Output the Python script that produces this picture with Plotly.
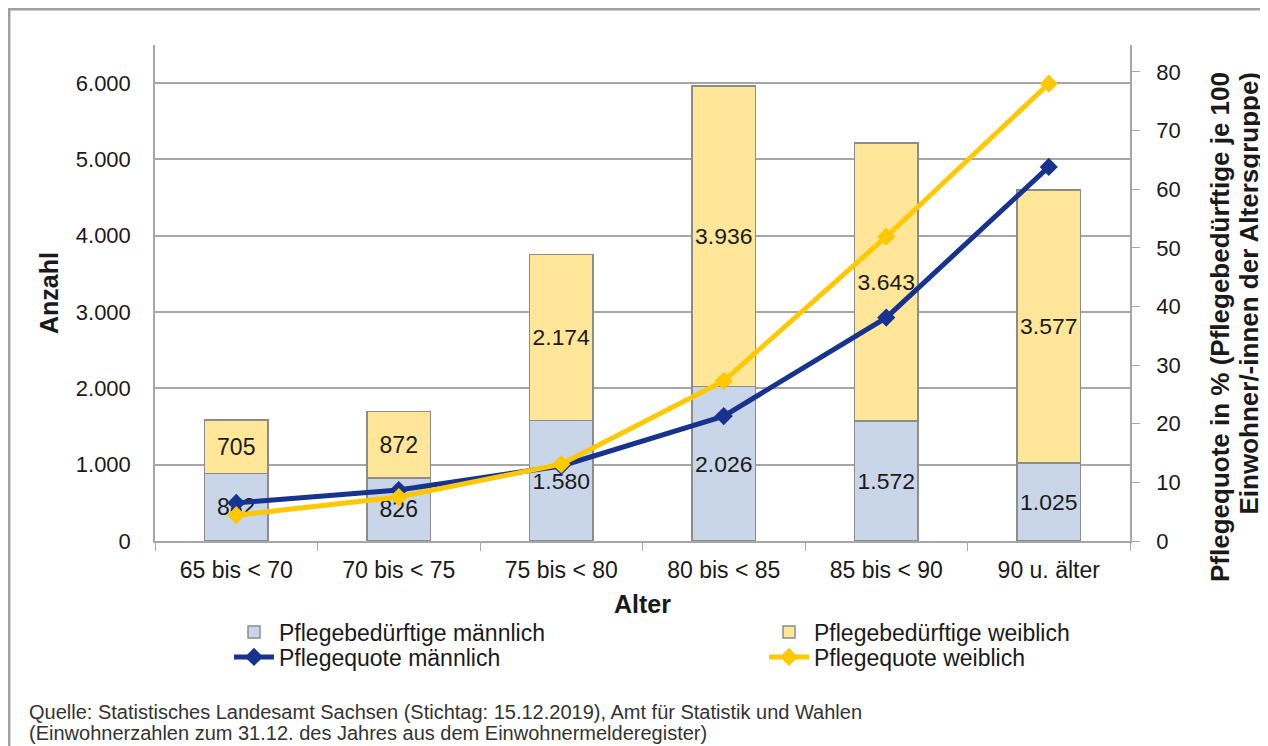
import plotly.graph_objects as go

categories = ["65 bis < 70", "70 bis < 75", "75 bis < 80", "80 bis < 85", "85 bis < 90", "90 u. älter"]
maennlich = [882, 826, 1580, 2026, 1572, 1025]
weiblich = [705, 872, 2174, 3936, 3643, 3577]
quote_m = [6.5, 8.7, 12.8, 21.3, 38.1, 63.8]
quote_w = [4.4, 7.5, 13.1, 27.3, 51.9, 78.0]
left_ticks = [0, 1000, 2000, 3000, 4000, 5000, 6000]
right_ticks = [0, 10, 20, 30, 40, 50, 60, 70, 80]

FONT = "Liberation Sans, Arial, sans-serif"
TXT = "#1a1a1a"
W, H = 1260, 738          # page adds an 8px body margin
OFF = 8
L, R, T, B = 147, 138, 37, 205
PW, PH = W - L - R, H - T - B


def px(x):  # screen x -> paper
    return (x - OFF - L) / PW


def py(y):  # screen y -> paper
    return (H - B - (y - OFF)) / PH


fig = go.Figure()
fig.add_trace(go.Bar(
    x=categories, y=maennlich, name="Pflegebedürftige männlich", legend="legend",
    marker=dict(color="#C9D5E8", line=dict(color="#8C8C8C", width=1.5)),
    texttemplate="%{y:,.0f}", textposition="inside", insidetextanchor="middle",
    textfont=dict(size=23, color=TXT, family=FONT), textangle=0,
))
fig.add_trace(go.Bar(
    x=categories, y=weiblich, name="Pflegebedürftige weiblich", legend="legend2",
    marker=dict(color="#FFE699", line=dict(color="#8C8C8C", width=1.5)),
    texttemplate="%{y:,.0f}", textposition="inside", insidetextanchor="middle",
    textfont=dict(size=23, color=TXT, family=FONT), textangle=0,
))
fig.add_trace(go.Scatter(
    x=categories, y=quote_m, name="Pflegequote männlich", yaxis="y2", legend="legend3",
    mode="lines+markers", line=dict(color="#17338F", width=5),
    marker=dict(symbol="diamond", size=14, color="#17338F"),
))
fig.add_trace(go.Scatter(
    x=categories, y=quote_w, name="Pflegequote weiblich", yaxis="y2", legend="legend4",
    mode="lines+markers", line=dict(color="#FFC800", width=5),
    marker=dict(symbol="diamond", size=14, color="#FFC800"),
))

legend_common = dict(
    orientation="v", xanchor="left", yanchor="middle", itemwidth=40,
    font=dict(size=23, family=FONT, color=TXT),
    bgcolor="rgba(0,0,0,0)",
)

fig.update_layout(
    width=W, height=H,
    margin=dict(l=L, r=R, t=T, b=B),
    paper_bgcolor="white", plot_bgcolor="white",
    separators=",.",
    barmode="stack", bargap=0.61,
    font=dict(family=FONT, color=TXT, size=22),
    showlegend=True,
    legend=dict(x=px(229), y=py(632), **legend_common),
    legend2=dict(x=px(764), y=py(632), **legend_common),
    legend3=dict(x=px(229), y=py(657), **legend_common),
    legend4=dict(x=px(764), y=py(657), **legend_common),
    xaxis=dict(
        automargin=False,
        showline=True, linecolor="#A6A6A6", linewidth=1.5,
        ticks="outside", ticklen=8, tickcolor="#A6A6A6", tickson="boundaries",
        ticklabelstandoff=8,
        tickfont=dict(size=23, family=FONT, color=TXT),
        title=dict(text="<b>Alter</b>", font=dict(size=25, family=FONT, color=TXT), standoff=13),
    ),
    yaxis=dict(
        automargin=False,
        range=[0, 6500], tickvals=left_ticks, tickformat=",.0f",
        showgrid=True, gridcolor="#A6A6A6", gridwidth=1.5,
        showline=True, linecolor="#A6A6A6", linewidth=1.5,
        ticks="", ticklabelstandoff=18,
        tickfont=dict(size=22, family=FONT, color=TXT), zeroline=False,
        title=dict(text="<b>Anzahl</b>", font=dict(size=25, family=FONT, color=TXT), standoff=10),
    ),
    yaxis2=dict(
        automargin=False,
        overlaying="y", side="right", range=[0, 84.6], tickvals=right_ticks,
        showgrid=False, showline=True, linecolor="#A6A6A6", linewidth=1.5,
        ticks="outside", ticklen=8, tickcolor="#A6A6A6", zeroline=False,
        ticklabelstandoff=12, tickprefix="\u2007",
        tickfont=dict(size=22, family=FONT, color=TXT),
    ),
    shapes=[dict(type="rect", xref="paper", yref="paper",
                 x0=px(9.2), x1=px(1290), y0=py(800), y1=py(9.2),
                 line=dict(color="#A0A0A0", width=2.5), layer="below")],
    annotations=[
        dict(xref="paper", yref="paper", x=px(1220), y=py(70), xanchor="center", yanchor="top",
             textangle=-90, showarrow=False,
             text="<b>Pflegequote in % (Pflegebedürftige je 100</b>",
             font=dict(size=26, family=FONT, color=TXT)),
        dict(xref="paper", yref="paper", x=px(1248), y=py(70), xanchor="center", yanchor="top",
             textangle=-90, showarrow=False,
             text="<b>Einwohner/-innen der Altersgruppe)</b>",
             font=dict(size=26, family=FONT, color=TXT)),
        dict(xref="paper", yref="paper", x=px(27), y=py(712), xanchor="left", yanchor="middle",
             showarrow=False,
             text="Quelle: Statistisches Landesamt Sachsen (Stichtag: 15.12.2019), Amt für Statistik und Wahlen",
             font=dict(size=20, family=FONT, color="#333333")),
        dict(xref="paper", yref="paper", x=px(27), y=py(733), xanchor="left", yanchor="middle",
             showarrow=False,
             text="(Einwohnerzahlen zum 31.12. des Jahres aus dem Einwohnermelderegister)",
             font=dict(size=20, family=FONT, color="#333333")),
    ],
)

fig.write_html("out.html")
